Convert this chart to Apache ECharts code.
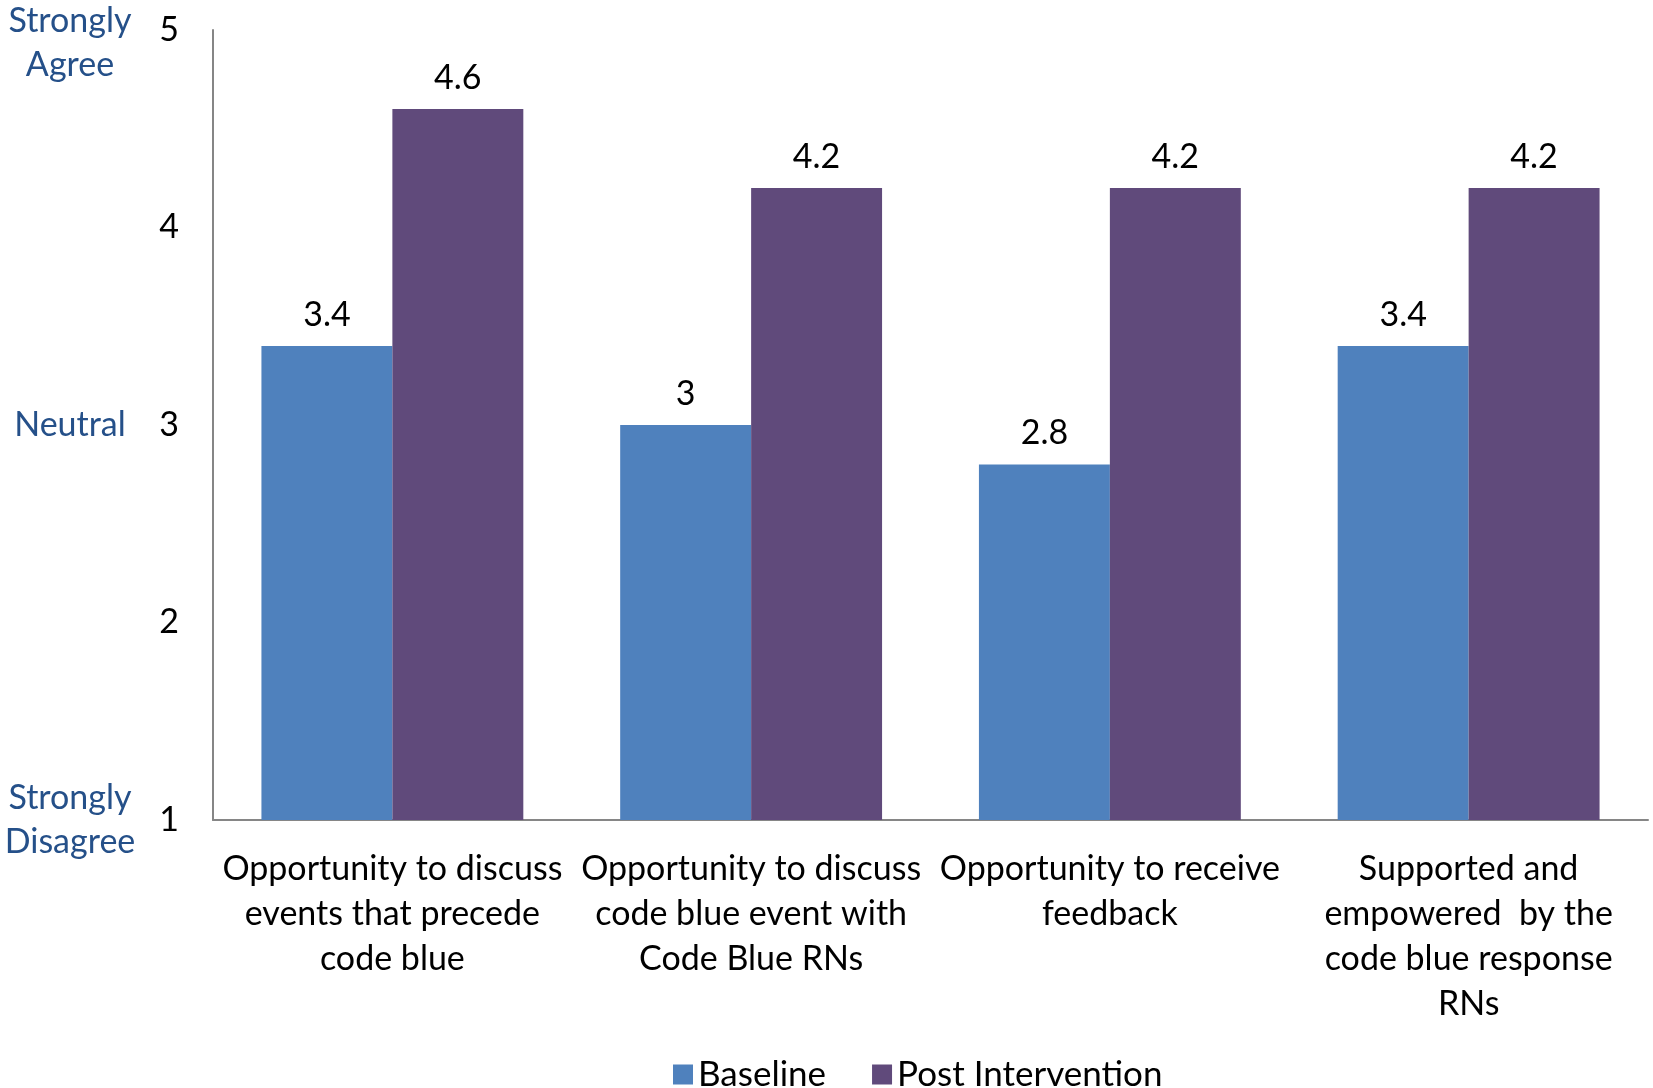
<!DOCTYPE html>
<html>
<head>
<meta charset="utf-8">
<script src="https://cdn.jsdelivr.net/npm/echarts@6/dist/echarts.min.js"></script>
<style>
html,body{margin:0;padding:0;background:#fff;}
#chart{width:1653px;height:1088px;}
</style>
</head>
<body>
<div id="chart"></div>
<script>
const categories = [
  "Opportunity to discuss\nevents that precede\ncode blue",
  "Opportunity to discuss\ncode blue event with\nCode Blue RNs",
  "Opportunity to receive\nfeedback",
  "Supported and\nempowered  by the\ncode blue response\nRNs"
];
const baseline = [3.4, 3, 2.8, 3.4];
const postIntervention = [4.6, 4.2, 4.2, 4.2];
const seriesNames = ["Baseline", "Post Intervention"];
const scaleLabels = {5: "Strongly\nAgree", 3: "Neutral", 1: "Strongly\nDisagree"};

const FONT = "Lato";
const chart = echarts.init(document.getElementById('chart'));
chart.setOption({
  backgroundColor: '#ffffff',
  animation: false,
  textStyle: {fontFamily: FONT},
  color: ['#4F81BD', '#604A7B'],
  grid: {left: 213, right: 5, top: 30, bottom: 268, containLabel: false, outerBoundsMode: 'none'},
  legend: {
    data: seriesNames,
    left: 668, top: 1052,
    icon: 'rect', itemWidth: 20, itemHeight: 20, itemGap: 46,
    textStyle: {fontFamily: FONT, fontSize: 35, color: '#000'}
  },
  xAxis: {
    type: 'category',
    data: categories,
    axisLine: {lineStyle: {color: '#868686', width: 2}},
    axisTick: {show: false},
    axisLabel: {interval: 0, margin: 27, fontFamily: FONT, fontSize: 34, lineHeight: 45, color: '#000'}
  },
  yAxis: [{
    type: 'value', min: 1, max: 5, interval: 1,
    axisLine: {show: true, lineStyle: {color: '#868686', width: 2}},
    axisTick: {show: false},
    splitLine: {show: false},
    axisLabel: {margin: 34, fontFamily: FONT, fontSize: 34, color: '#000'}
  }, {
    type: 'value', min: 1, max: 5, interval: 1, position: 'left', offset: 0,
    axisLine: {show: false}, axisTick: {show: false}, splitLine: {show: false},
    axisLabel: {
      margin: 143, align: 'center',
      formatter: v => v === 5 ? '{top|' + scaleLabels[5] + '}' : (scaleLabels[v] || ''),
      fontFamily: FONT, fontSize: 34, lineHeight: 44, color: '#255089',
      rich: {top: {padding: [26, 0, 0, 0], fontFamily: FONT, fontSize: 34, lineHeight: 44, color: '#255089'}}
    }
  }],
  series: [{
    name: seriesNames[0], type: 'bar', data: baseline, barGap: '0%', barCategoryGap: '27%',
    label: {show: true, position: 'top', distance: 14, fontFamily: FONT, fontSize: 34, color: '#000'}
  }, {
    name: seriesNames[1], type: 'bar', data: postIntervention, barGap: '0%', barCategoryGap: '27%',
    label: {show: true, position: 'top', distance: 14, fontFamily: FONT, fontSize: 34, color: '#000'}
  }]
});
</script>
</body>
</html>
